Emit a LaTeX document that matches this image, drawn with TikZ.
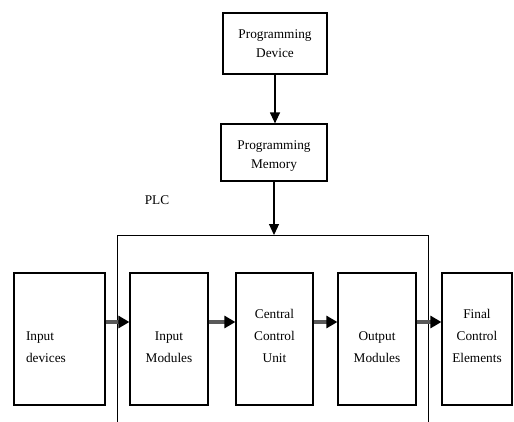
\documentclass[tikz,border=0pt]{standalone}
\usepackage{fontspec}
\setmainfont{Liberation Serif}
\usetikzlibrary{arrows.meta}
\newcommand{\boxlines}[2][c]{\begin{tabular}[b]{@{}#1@{}}#2\end{tabular}}

\begin{document}
\begin{tikzpicture}[x=1pt, y=-1pt,
  block/.style={draw, line width=1.2pt, inner sep=0pt, text depth=0pt,
    font=\fontsize{13.3}{22}\selectfont},
  topblock/.style={block, font=\fontsize{13.3}{19}\selectfont},
  frame/.style={draw, line width=1.2pt, inner sep=0pt},
  flow/.style={draw=black!65, line width=3.2pt,
    -{Triangle[length=11pt, width=12pt, color=black]}},
  feed/.style={line width=1.2pt, -{Triangle[length=11pt, width=10pt]}}]
\useasboundingbox (0,0) rectangle (514,421);

\node [topblock, minimum width=104pt, minimum height=61pt, text height=27pt] (dev) at (275,43.5) {\boxlines{Programming\\Device}};
\node [topblock, minimum width=106pt, minimum height=57pt, text height=31pt] (mem) at (274,152.5) {\boxlines{Programming\\Memory}};

\node [font=\fontsize{13.3}{16}\selectfont, inner sep=0pt, anchor=base] (plctext) at (157,204) {PLC};
\begin{scope}
\clip (0,0) rectangle (514,421);
\node [frame, minimum width=311pt, minimum height=230pt, anchor=north] (plc) at (273,235) {};
\end{scope}

\node [block, minimum width=91pt, minimum height=132pt, text height=46pt, text width=67pt, align=left] (indev) at (59.5,339) {\boxlines[l]{Input\\devices}};
\node [block, minimum width=78pt, minimum height=132pt, text height=46pt] (inmod) at (169,339) {\boxlines{Input\\Modules}};
\node [block, minimum width=77pt, minimum height=132pt, text height=46pt] (ccu) at (274.5,339) {\boxlines{Central\\Control\\Unit}};
\node [block, minimum width=78pt, minimum height=132pt, text height=46pt] (outmod) at (377,339) {\boxlines{Output\\Modules}};
\node [block, minimum width=70pt, minimum height=132pt, text height=46pt] (fce) at (477,339) {\boxlines{Final\\Control\\Elements}};

\draw [feed] (dev.south) -- (dev.south |- mem.north);
\draw [feed] (mem.south) -- (mem.south |- plc.north);

\draw [flow] ([yshift=17pt]indev.east) -- ([yshift=17pt]inmod.west);
\draw [flow] ([yshift=17pt]inmod.east) -- ([yshift=17pt]ccu.west);
\draw [flow] ([yshift=17pt]ccu.east) -- ([yshift=17pt]outmod.west);
\draw [flow] ([yshift=17pt]outmod.east) -- ([yshift=17pt]fce.west);

\end{tikzpicture}
\end{document}
